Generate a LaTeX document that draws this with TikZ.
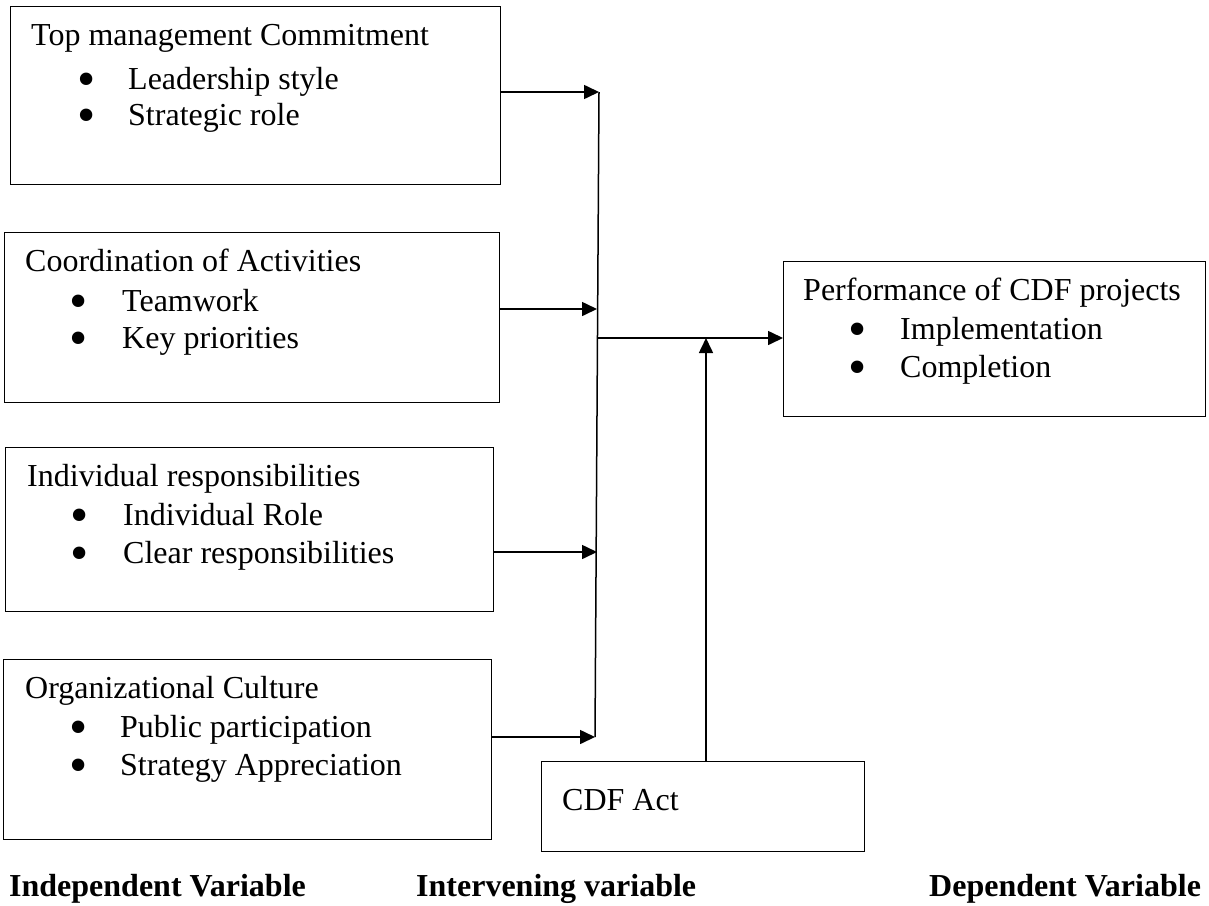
\documentclass[tikz,border=0pt]{standalone}
\usepackage{fontspec}
\setmainfont{Liberation Serif}
\usetikzlibrary{arrows.meta}
\begin{document}
\begin{tikzpicture}[x=1pt,y=-1pt,
  box/.style={draw,line width=1.3pt,inner sep=0pt,anchor=north west},
  txt/.style={inner sep=0pt,anchor=base west,font=\fontsize{32}{38}\selectfont},
  bul/.style={inner sep=0pt,anchor=base,yshift=-7pt,font=\fontsize{52}{52}\selectfont},
  lbl/.style={inner sep=0pt,anchor=base west,font=\fontsize{32}{38}\selectfont\bfseries},
  arr/.style={line width=1.6pt,-{Triangle[length=15pt,width=14pt]}},
  ln/.style={line width=1.5pt}]
\useasboundingbox (0,0) rectangle (1209,905);
% boxes
\node[box,minimum width=490pt,minimum height=178pt] (b1) at (10,6) {};
\node[box,minimum width=495pt,minimum height=170pt] (b2) at (4,232) {};
\node[box,minimum width=488pt,minimum height=164pt] (b3) at (5,447) {};
\node[box,minimum width=488pt,minimum height=180pt] (b4) at (3,659) {};
\node[box,minimum width=422pt,minimum height=155pt] (b5) at (783,261) {};
\node[box,minimum width=323pt,minimum height=90pt] (b6) at (541,761) {};
% texts box1
\node[txt] (t1) at (31,45) {Top management Commitment};
\node[bul] (t1a) at (87,89) {•};
\node[txt] (t1b) at (128,89) {Leadership style};
\node[bul] (t1c) at (87,125) {•};
\node[txt] (t1d) at (128,125) {Strategic role};
% box2
\node[txt] (t2) at (25,271) {Coordination of Activities};
\node[bul] (t2a) at (79,311) {•};
\node[txt] (t2b) at (122,311) {Teamwork};
\node[bul] (t2c) at (79,348) {•};
\node[txt] (t2d) at (122,348) {Key priorities};
% box3
\node[txt] (t3) at (27,486) {Individual responsibilities};
\node[bul] (t3a) at (80,525) {•};
\node[txt] (t3b) at (123,525) {Individual Role};
\node[bul] (t3c) at (80,563) {•};
\node[txt] (t3d) at (123,563) {Clear responsibilities};
% box4
\node[txt] (t4) at (25,698) {Organizational Culture};
\node[bul] (t4a) at (79,737) {•};
\node[txt] (t4b) at (120,737) {Public participation};
\node[bul] (t4c) at (79,775) {•};
\node[txt] (t4d) at (120,775) {Strategy Appreciation};
% box5
\node[txt] (t5) at (803,300) {Performance of CDF projects};
\node[bul] (t5a) at (858,339) {•};
\node[txt] (t5b) at (900,339) {Implementation};
\node[bul] (t5c) at (858,377) {•};
\node[txt] (t5d) at (900,377) {Completion};
% box6
\node[txt] (t6) at (562,810) {CDF Act};
% labels
\node[lbl] (l1) at (9,896) {Independent Variable};
\node[lbl] (l2) at (416,896) {Intervening variable};
\node[lbl] (l3) at (929,896) {Dependent Variable};
% connector geometry
\coordinate (j1) at (599,92);
\coordinate (j2) at (597,309);
\coordinate (j3) at (597,552);
\coordinate (j4) at (595,737);
\coordinate (jo) at (598,338);
\coordinate (jv) at (706,338);
\draw[ln] (j1) -- (j4);
\draw[arr] (b1.east |- j1) -- (j1);
\draw[arr] (b2.east |- j2) -- (j2);
\draw[arr] (b3.east |- j3) -- (j3);
\draw[arr] (b4.east |- j4) -- (j4);
\draw[arr] (jo) -- (b5.west |- jo);
\draw[arr] (b6.north -| jv) -- (jv);
\end{tikzpicture}
\end{document}
